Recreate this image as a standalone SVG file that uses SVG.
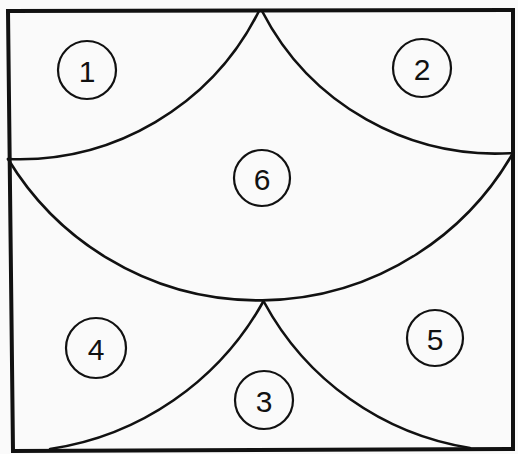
<svg xmlns="http://www.w3.org/2000/svg" width="518" height="454" viewBox="0 0 518 454">
<style>
.frame{fill:none;stroke:#111;stroke-width:4;stroke-linejoin:miter}
.arc{fill:none;stroke:#111;stroke-width:2.6;stroke-linecap:round}
.badge{fill:none;stroke:#111;stroke-width:2.2}
.num{font-family:"Liberation Sans",Arial,sans-serif;font-size:30px;fill:#111;text-anchor:middle;dominant-baseline:central}
</style>
<rect width="518" height="454" fill="#fafafa"/>
<g id="frame"><polygon class="frame" points="8,11 513,10 513,449 13,451"/></g>
<g id="connectors">
<path class="arc" d="M259,11 A268,268 0 0 1 8,159"/>
<path class="arc" d="M262,11 A263,263 0 0 0 513,153"/>
<path class="arc" d="M8,159 A293,293 0 0 0 513,153"/>
<path class="arc" d="M263,302 A293,293 0 0 1 50,449"/>
<path class="arc" d="M264,302 A285,285 0 0 0 470,448"/>
</g>
<g id="region1"><circle class="badge" cx="87" cy="70" r="29"/><text class="num" x="87" y="71">1</text></g>
<g id="region2"><circle class="badge" cx="422" cy="68" r="29"/><text class="num" x="422" y="69">2</text></g>
<g id="region6"><circle class="badge" cx="262" cy="178" r="28"/><text class="num" x="262" y="179">6</text></g>
<g id="region4"><circle class="badge" cx="96" cy="348" r="30"/><text class="num" x="96" y="349">4</text></g>
<g id="region5"><circle class="badge" cx="435" cy="338" r="28"/><text class="num" x="435" y="339">5</text></g>
<g id="region3"><circle class="badge" cx="264" cy="400" r="29"/><text class="num" x="264" y="401">3</text></g>
</svg>
